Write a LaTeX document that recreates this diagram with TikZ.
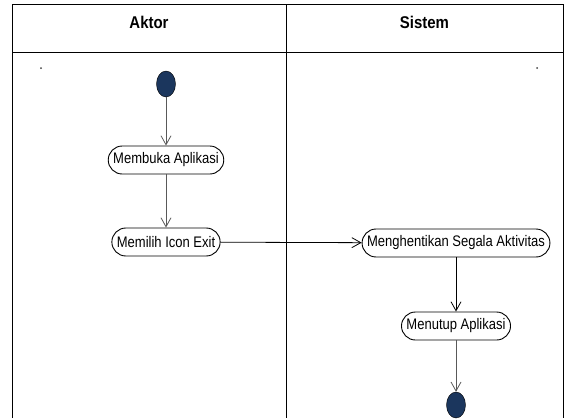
\documentclass[tikz,border=0pt]{standalone}
\usepackage{fontspec}
\setmainfont{Liberation Sans}
\newfontfamily\narrowfont[FakeStretch=0.85]{Liberation Sans}
\newfontfamily\lanefont[FakeStretch=0.88]{Liberation Sans}
\usetikzlibrary{arrows.meta}
\usetikzlibrary{positioning}
\usetikzlibrary{shapes.geometric}

\definecolor{navy}{HTML}{1B365D}

\begin{document}
\begin{tikzpicture}[x=1pt,y=-1pt,on grid,>={Straight Barb[length=9pt,width=10pt]},
        act/.style={draw, line width=0.9pt, rounded corners=14pt, minimum height=28pt, inner xsep=5pt, font=\narrowfont\fontsize{15.3}{17}\selectfont},
        startnode/.style={draw, ellipse, fill=navy, minimum width=19pt, minimum height=26pt, inner sep=0pt},
        lane/.style={font=\lanefont\bfseries\fontsize{17}{19}\selectfont},
        dot/.style={circle, fill=darkgray, inner sep=0pt, minimum size=2pt}]
            \useasboundingbox (0,0) rectangle (564,418);
            % swimlanes
            \draw[line width=1pt] (12,418) -- (12,4) -- (563,4) -- (563,418);
            \draw[line width=1pt] (12,52) -- (563,52);
            \draw[line width=1pt] (286,4) -- (286,418);
            \node[lane] (aktor) at (149,22) {Aktor};
            \node[lane] (sistem) at (424.5,22) {Sistem};
            \node[dot] (dot_a) at (41,68) {};
            \node[dot] (dot_s) at (537,68) {};
            % actions
            \node[startnode] (q_0) at (166,84) {};
            \node[act] (q_1) [below=76pt of q_0] {Membuka Aplikasi};
            \node[act] (q_2) [below=82pt of q_1] {Memilih Icon Exit};
            \node[act] (q_3) at (456,243) {Menghentikan Segala Aktivitas};
            \node[act] (q_4) [below=83pt of q_3] {Menutup Aplikasi};
            \node[startnode] (q_5) [below=79pt of q_4] {};
            \path[->, gray!70!black, line width=0.8pt]
            (q_0) edge (q_1)
            (q_1) edge (q_2)
            (q_4) edge (q_5);
            \path[->, line width=0.8pt]
            (q_2) edge (q_3)
            (q_3) edge (q_4);
        \end{tikzpicture}
\end{document}
